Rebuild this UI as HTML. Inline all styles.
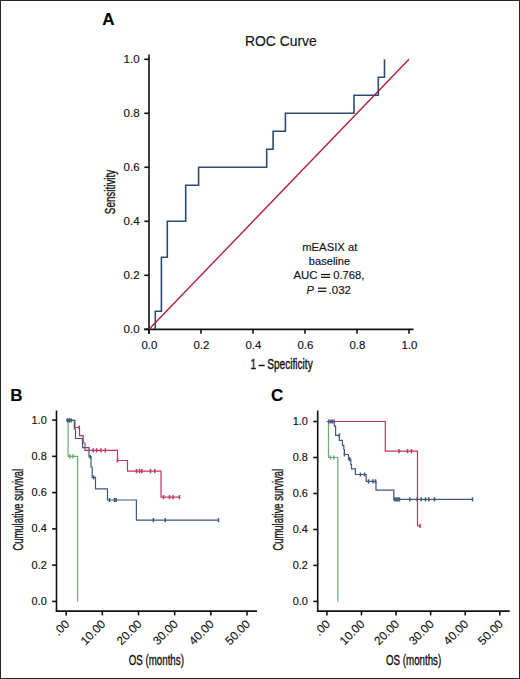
<!DOCTYPE html>
<html><head><meta charset="utf-8"><style>
html,body{margin:0;padding:0;background:#fff;}
body{width:520px;height:679px;overflow:hidden;}
svg{display:block;font-family:"Liberation Sans", sans-serif;}
text{stroke:#111;stroke-width:0.15px;}
</style></head><body>
<svg width="520" height="679" viewBox="0 0 520 679">
<rect x="0" y="0" width="520" height="679" fill="#fff"/>
<text x="102.2" y="24.6" font-size="17" text-anchor="start" font-weight="bold" fill="#000"  style="">A</text>
<text x="245.0" y="46.4" font-size="14.4" text-anchor="start" font-weight="normal" fill="#111" textLength="71.8" lengthAdjust="spacingAndGlyphs"  style="">ROC Curve</text>
<line x1="149" y1="54.5" x2="149" y2="333.8" stroke="#111" stroke-width="1.6"/>
<line x1="144.3" y1="329.4" x2="413.5" y2="329.4" stroke="#111" stroke-width="1.6"/>
<line x1="144.3" y1="329.3" x2="149" y2="329.3" stroke="#111" stroke-width="1.6"/>
<text x="139.6" y="332.9" font-size="10.8" text-anchor="end" font-weight="normal" fill="#111" textLength="16.0" lengthAdjust="spacingAndGlyphs"  style="">0.0</text>
<line x1="144.3" y1="275.3" x2="149" y2="275.3" stroke="#111" stroke-width="1.6"/>
<text x="139.6" y="278.9" font-size="10.8" text-anchor="end" font-weight="normal" fill="#111" textLength="16.0" lengthAdjust="spacingAndGlyphs"  style="">0.2</text>
<line x1="144.3" y1="221.3" x2="149" y2="221.3" stroke="#111" stroke-width="1.6"/>
<text x="139.6" y="224.9" font-size="10.8" text-anchor="end" font-weight="normal" fill="#111" textLength="16.0" lengthAdjust="spacingAndGlyphs"  style="">0.4</text>
<line x1="144.3" y1="167.3" x2="149" y2="167.3" stroke="#111" stroke-width="1.6"/>
<text x="139.6" y="170.9" font-size="10.8" text-anchor="end" font-weight="normal" fill="#111" textLength="16.0" lengthAdjust="spacingAndGlyphs"  style="">0.6</text>
<line x1="144.3" y1="113.3" x2="149" y2="113.3" stroke="#111" stroke-width="1.6"/>
<text x="139.6" y="116.9" font-size="10.8" text-anchor="end" font-weight="normal" fill="#111" textLength="16.0" lengthAdjust="spacingAndGlyphs"  style="">0.8</text>
<line x1="144.3" y1="59.3" x2="149" y2="59.3" stroke="#111" stroke-width="1.6"/>
<text x="139.6" y="62.9" font-size="10.8" text-anchor="end" font-weight="normal" fill="#111" textLength="16.0" lengthAdjust="spacingAndGlyphs"  style="">1.0</text>
<line x1="149" y1="329.3" x2="149" y2="333.8" stroke="#111" stroke-width="1.6"/>
<text x="149.4" y="348.8" font-size="10.8" text-anchor="middle" font-weight="normal" fill="#111" textLength="15.9" lengthAdjust="spacingAndGlyphs"  style="">0.0</text>
<line x1="201" y1="329.3" x2="201" y2="333.8" stroke="#111" stroke-width="1.6"/>
<text x="201.4" y="348.8" font-size="10.8" text-anchor="middle" font-weight="normal" fill="#111" textLength="15.9" lengthAdjust="spacingAndGlyphs"  style="">0.2</text>
<line x1="253" y1="329.3" x2="253" y2="333.8" stroke="#111" stroke-width="1.6"/>
<text x="253.4" y="348.8" font-size="10.8" text-anchor="middle" font-weight="normal" fill="#111" textLength="15.9" lengthAdjust="spacingAndGlyphs"  style="">0.4</text>
<line x1="305" y1="329.3" x2="305" y2="333.8" stroke="#111" stroke-width="1.6"/>
<text x="305.4" y="348.8" font-size="10.8" text-anchor="middle" font-weight="normal" fill="#111" textLength="15.9" lengthAdjust="spacingAndGlyphs"  style="">0.6</text>
<line x1="357" y1="329.3" x2="357" y2="333.8" stroke="#111" stroke-width="1.6"/>
<text x="357.4" y="348.8" font-size="10.8" text-anchor="middle" font-weight="normal" fill="#111" textLength="15.9" lengthAdjust="spacingAndGlyphs"  style="">0.8</text>
<line x1="409" y1="329.3" x2="409" y2="333.8" stroke="#111" stroke-width="1.6"/>
<text x="409.4" y="348.8" font-size="10.8" text-anchor="middle" font-weight="normal" fill="#111" textLength="15.9" lengthAdjust="spacingAndGlyphs"  style="">1.0</text>
<text x="250.4" y="368.5" font-size="14" text-anchor="start" font-weight="normal" fill="#111" textLength="62.3" lengthAdjust="spacingAndGlyphs"  style="stroke:#111;stroke-width:0.35px">1 – Specificity</text>
<text transform="translate(114.6,192) rotate(-90)" x="0" y="0" font-size="14" text-anchor="middle" fill="#111" textLength="44.3" lengthAdjust="spacingAndGlyphs" style="stroke:#111;stroke-width:0.35px">Sensitivity</text>
<path d="M155.3,329.3 V311.3 H161.4 V257.3 H167.3 V221.3 H185.7 V185.3 H198.6 V167.3 H266.7 V149.3 H273.1 V131.3 H285.4 V113.3 H354 V95.3 H378.3 V77.3 H384.5 V59.3" stroke="#2c4b72" stroke-width="1.6" fill="none" stroke-linejoin="miter"/>
<path d="M149,329.3 L409,59.3" stroke="#b0193e" stroke-width="1.35" fill="none"/>
<text x="329.8" y="250.6" font-size="11" text-anchor="middle" font-weight="normal" fill="#111" textLength="55.2" lengthAdjust="spacingAndGlyphs"  style="">mEASIX at</text>
<text x="329.5" y="264.6" font-size="11" text-anchor="middle" font-weight="normal" fill="#111" textLength="41.4" lengthAdjust="spacingAndGlyphs"  style="">baseline</text>
<text x="293.4" y="279.0" font-size="11" text-anchor="start" font-weight="normal" fill="#111" textLength="24.2" lengthAdjust="spacingAndGlyphs"  style="">AUC</text>
<rect x="321" y="273.9" width="9.2" height="1.25" fill="#111"/><rect x="321" y="276.7" width="9.2" height="1.25" fill="#111"/>
<text x="333.2" y="279.0" font-size="11" text-anchor="start" font-weight="normal" fill="#111" textLength="31.2" lengthAdjust="spacingAndGlyphs"  style="">0.768,</text>
<text x="306.6" y="293.5" font-size="11" font-style="italic" fill="#111">P</text>
<rect x="318" y="287.6" width="8.4" height="1.25" fill="#111"/><rect x="318" y="290.7" width="8.4" height="1.25" fill="#111"/>
<text x="328.6" y="293.5" font-size="11" text-anchor="start" font-weight="normal" fill="#111" textLength="22.3" lengthAdjust="spacingAndGlyphs"  style="">.032</text>
<text x="10.2" y="401.2" font-size="17" text-anchor="start" font-weight="bold" fill="#000"  style="">B</text>
<line x1="56.5" y1="410.5" x2="56.5" y2="611.2" stroke="#111" stroke-width="1.6"/>
<line x1="55.7" y1="611.1" x2="257" y2="611.1" stroke="#111" stroke-width="1.6"/>
<line x1="52.1" y1="601.4" x2="56.5" y2="601.4" stroke="#111" stroke-width="1.6"/>
<text x="46.8" y="605.0" font-size="10.6" text-anchor="end" font-weight="normal" fill="#111" textLength="15.2" lengthAdjust="spacingAndGlyphs"  style="">0.0</text>
<line x1="52.1" y1="565.14" x2="56.5" y2="565.14" stroke="#111" stroke-width="1.6"/>
<text x="46.8" y="568.74" font-size="10.6" text-anchor="end" font-weight="normal" fill="#111" textLength="15.2" lengthAdjust="spacingAndGlyphs"  style="">0.2</text>
<line x1="52.1" y1="528.88" x2="56.5" y2="528.88" stroke="#111" stroke-width="1.6"/>
<text x="46.8" y="532.48" font-size="10.6" text-anchor="end" font-weight="normal" fill="#111" textLength="15.2" lengthAdjust="spacingAndGlyphs"  style="">0.4</text>
<line x1="52.1" y1="492.62" x2="56.5" y2="492.62" stroke="#111" stroke-width="1.6"/>
<text x="46.8" y="496.22" font-size="10.6" text-anchor="end" font-weight="normal" fill="#111" textLength="15.2" lengthAdjust="spacingAndGlyphs"  style="">0.6</text>
<line x1="52.1" y1="456.36" x2="56.5" y2="456.36" stroke="#111" stroke-width="1.6"/>
<text x="46.8" y="459.96" font-size="10.6" text-anchor="end" font-weight="normal" fill="#111" textLength="15.2" lengthAdjust="spacingAndGlyphs"  style="">0.8</text>
<line x1="52.1" y1="420.1" x2="56.5" y2="420.1" stroke="#111" stroke-width="1.6"/>
<text x="46.8" y="423.7" font-size="10.6" text-anchor="end" font-weight="normal" fill="#111" textLength="15.2" lengthAdjust="spacingAndGlyphs"  style="">1.0</text>
<line x1="66.2" y1="611.1" x2="66.2" y2="615.4" stroke="#111" stroke-width="1.6"/>
<text transform="translate(70.10,624.80) rotate(-45)" x="0" y="0" font-size="11.8" text-anchor="end" fill="#111">.00</text>
<line x1="102.36" y1="611.1" x2="102.36" y2="615.4" stroke="#111" stroke-width="1.6"/>
<text transform="translate(106.26,624.80) rotate(-45)" x="0" y="0" font-size="11.8" text-anchor="end" fill="#111">10.00</text>
<line x1="138.52" y1="611.1" x2="138.52" y2="615.4" stroke="#111" stroke-width="1.6"/>
<text transform="translate(142.42,624.80) rotate(-45)" x="0" y="0" font-size="11.8" text-anchor="end" fill="#111">20.00</text>
<line x1="174.68" y1="611.1" x2="174.68" y2="615.4" stroke="#111" stroke-width="1.6"/>
<text transform="translate(178.58,624.80) rotate(-45)" x="0" y="0" font-size="11.8" text-anchor="end" fill="#111">30.00</text>
<line x1="210.84" y1="611.1" x2="210.84" y2="615.4" stroke="#111" stroke-width="1.6"/>
<text transform="translate(214.74,624.80) rotate(-45)" x="0" y="0" font-size="11.8" text-anchor="end" fill="#111">40.00</text>
<line x1="247.0" y1="611.1" x2="247.0" y2="615.4" stroke="#111" stroke-width="1.6"/>
<text transform="translate(250.90,624.80) rotate(-45)" x="0" y="0" font-size="11.8" text-anchor="end" fill="#111">50.00</text>
<text x="128.7" y="664.9" font-size="14" text-anchor="start" font-weight="normal" fill="#111" textLength="55.2" lengthAdjust="spacingAndGlyphs"  style="stroke:#111;stroke-width:0.35px">OS (months)</text>
<text transform="translate(22.7,509.7) rotate(-90)" x="0" y="0" font-size="14" text-anchor="middle" fill="#111" textLength="81.8" lengthAdjust="spacingAndGlyphs" style="stroke:#111;stroke-width:0.35px">Cumulative survival</text>
<path d="M66.2,420.1 H68.1 V456.4 H77.6 V601.5" stroke="#6aac74" stroke-width="1.2" fill="none"/>
<path d="M69.8,454.30 V458.50 M73,454.30 V458.50" stroke="#6aac74" stroke-width="1.5" fill="none"/>
<path d="M66.2,420.3 H74.9 V427.5 H79.5 V435.6 H83.2 V443 H85 V450.4 H117.5 V460.5 H127.5 V471.2 H161 V497.2 H179.8" stroke="#bd365e" stroke-width="1.2" fill="none"/>
<path d="M79.2,425.40 V429.60 M93.3,448.30 V452.50 M96.6,448.30 V452.50 M101,448.30 V452.50 M105.4,448.30 V452.50 M117.5,458.40 V462.60 M136.5,469.10 V473.30 M139.5,469.10 V473.30 M141.8,469.10 V473.30 M150.5,469.10 V473.30 M154.8,469.10 V473.30 M163.5,495.10 V499.30 M169.5,495.10 V499.30 M173,495.10 V499.30 M179.5,495.10 V499.30" stroke="#bd365e" stroke-width="1.5" fill="none"/>
<path d="M66.2,420.3 H74.3 V429 H75.5 V438.5 H82.5 V447.6 H89 V456.7 H91 V467 H92.2 V477.3 H95.5 V488.9 H107.5 V500 H136.4 V520.2 H218.5" stroke="#41597a" stroke-width="1.2" fill="none"/>
<path d="M67.5,418.20 V422.40 M69.3,418.20 V422.40 M71.1,418.20 V422.40 M90.3,454.90 V459.10 M93.5,475.20 V479.40 M109.5,497.90 V502.10 M114.5,497.90 V502.10 M116.2,497.90 V502.10 M153.4,518.10 V522.30 M165.2,518.10 V522.30 M218.5,518.10 V522.30" stroke="#41597a" stroke-width="1.5" fill="none"/>
<text x="270.9" y="401.2" font-size="17" text-anchor="start" font-weight="bold" fill="#000"  style="">C</text>
<line x1="317.7" y1="410.5" x2="317.7" y2="611.2" stroke="#111" stroke-width="1.6"/>
<line x1="316.9" y1="611.1" x2="509.7" y2="611.1" stroke="#111" stroke-width="1.6"/>
<line x1="313.3" y1="601.4" x2="317.7" y2="601.4" stroke="#111" stroke-width="1.6"/>
<text x="307.9" y="605.0" font-size="10.6" text-anchor="end" font-weight="normal" fill="#111" textLength="15.2" lengthAdjust="spacingAndGlyphs"  style="">0.0</text>
<line x1="313.3" y1="565.42" x2="317.7" y2="565.42" stroke="#111" stroke-width="1.6"/>
<text x="307.9" y="569.02" font-size="10.6" text-anchor="end" font-weight="normal" fill="#111" textLength="15.2" lengthAdjust="spacingAndGlyphs"  style="">0.2</text>
<line x1="313.3" y1="529.44" x2="317.7" y2="529.44" stroke="#111" stroke-width="1.6"/>
<text x="307.9" y="533.04" font-size="10.6" text-anchor="end" font-weight="normal" fill="#111" textLength="15.2" lengthAdjust="spacingAndGlyphs"  style="">0.4</text>
<line x1="313.3" y1="493.46" x2="317.7" y2="493.46" stroke="#111" stroke-width="1.6"/>
<text x="307.9" y="497.06" font-size="10.6" text-anchor="end" font-weight="normal" fill="#111" textLength="15.2" lengthAdjust="spacingAndGlyphs"  style="">0.6</text>
<line x1="313.3" y1="457.48" x2="317.7" y2="457.48" stroke="#111" stroke-width="1.6"/>
<text x="307.9" y="461.08" font-size="10.6" text-anchor="end" font-weight="normal" fill="#111" textLength="15.2" lengthAdjust="spacingAndGlyphs"  style="">0.8</text>
<line x1="313.3" y1="421.5" x2="317.7" y2="421.5" stroke="#111" stroke-width="1.6"/>
<text x="307.9" y="425.1" font-size="10.6" text-anchor="end" font-weight="normal" fill="#111" textLength="15.2" lengthAdjust="spacingAndGlyphs"  style="">1.0</text>
<line x1="326.9" y1="611.1" x2="326.9" y2="615.4" stroke="#111" stroke-width="1.6"/>
<text transform="translate(330.80,624.80) rotate(-45)" x="0" y="0" font-size="11.8" text-anchor="end" fill="#111">.00</text>
<line x1="361.48" y1="611.1" x2="361.48" y2="615.4" stroke="#111" stroke-width="1.6"/>
<text transform="translate(365.38,624.80) rotate(-45)" x="0" y="0" font-size="11.8" text-anchor="end" fill="#111">10.00</text>
<line x1="396.06" y1="611.1" x2="396.06" y2="615.4" stroke="#111" stroke-width="1.6"/>
<text transform="translate(399.96,624.80) rotate(-45)" x="0" y="0" font-size="11.8" text-anchor="end" fill="#111">20.00</text>
<line x1="430.64" y1="611.1" x2="430.64" y2="615.4" stroke="#111" stroke-width="1.6"/>
<text transform="translate(434.54,624.80) rotate(-45)" x="0" y="0" font-size="11.8" text-anchor="end" fill="#111">30.00</text>
<line x1="465.22" y1="611.1" x2="465.22" y2="615.4" stroke="#111" stroke-width="1.6"/>
<text transform="translate(469.12,624.80) rotate(-45)" x="0" y="0" font-size="11.8" text-anchor="end" fill="#111">40.00</text>
<line x1="499.8" y1="611.1" x2="499.8" y2="615.4" stroke="#111" stroke-width="1.6"/>
<text transform="translate(503.70,624.80) rotate(-45)" x="0" y="0" font-size="11.8" text-anchor="end" fill="#111">50.00</text>
<text x="386" y="665" font-size="14" text-anchor="start" font-weight="normal" fill="#111" textLength="55.2" lengthAdjust="spacingAndGlyphs"  style="stroke:#111;stroke-width:0.35px">OS (months)</text>
<text transform="translate(283.4,509.7) rotate(-90)" x="0" y="0" font-size="14" text-anchor="middle" fill="#111" textLength="81.8" lengthAdjust="spacingAndGlyphs" style="stroke:#111;stroke-width:0.35px">Cumulative survival</text>
<path d="M326.9,421.5 H328.5 V457.5 H337.8 V601.5" stroke="#6aac74" stroke-width="1.2" fill="none"/>
<path d="M330.5,455.40 V459.60 M333.8,455.40 V459.60" stroke="#6aac74" stroke-width="1.5" fill="none"/>
<path d="M326.9,421.5 H385.3 V451.2 H417.5 V526 H421" stroke="#bd365e" stroke-width="1.2" fill="none"/>
<path d="M334.2,419.40 V423.60 M399,449.10 V453.30 M407.5,449.10 V453.30 M411.5,449.10 V453.30 M420,523.90 V528.10" stroke="#bd365e" stroke-width="1.5" fill="none"/>
<path d="M326.9,421.5 H334.4 V426.2 H335.6 V435.4 H339.4 V440.4 H342.4 V445.4 H343.8 V449.5 H344.4 V454.5 H348.5 V459.2 H350.8 V464.5 H351.5 V468.8 H355.4 V474.5 H366.2 V481.3 H376 V490.2 H393.8 V499.4 H472.5" stroke="#41597a" stroke-width="1.2" fill="none"/>
<path d="M328.8,419.40 V423.60 M330.8,419.40 V423.60 M332.5,419.40 V423.60 M339.4,433.30 V437.50 M344.4,452.40 V456.60 M349.5,457.10 V461.30 M360.4,472.40 V476.60 M364.5,472.40 V476.60 M368.6,479.20 V483.40 M373,479.20 V483.40 M375.5,479.20 V483.40 M394.5,497.30 V501.50 M396.2,497.30 V501.50 M397.8,497.30 V501.50 M399.5,497.30 V501.50 M409.8,497.30 V501.50 M417.2,497.30 V501.50 M421.3,497.30 V501.50 M425.5,497.30 V501.50 M428.8,497.30 V501.50 M434.5,497.30 V501.50 M472.5,497.30 V501.50" stroke="#41597a" stroke-width="1.5" fill="none"/>
<rect x="0.5" y="0.5" width="519" height="678" fill="none" stroke="#262626" stroke-width="1"/>
</svg>
</body></html>
